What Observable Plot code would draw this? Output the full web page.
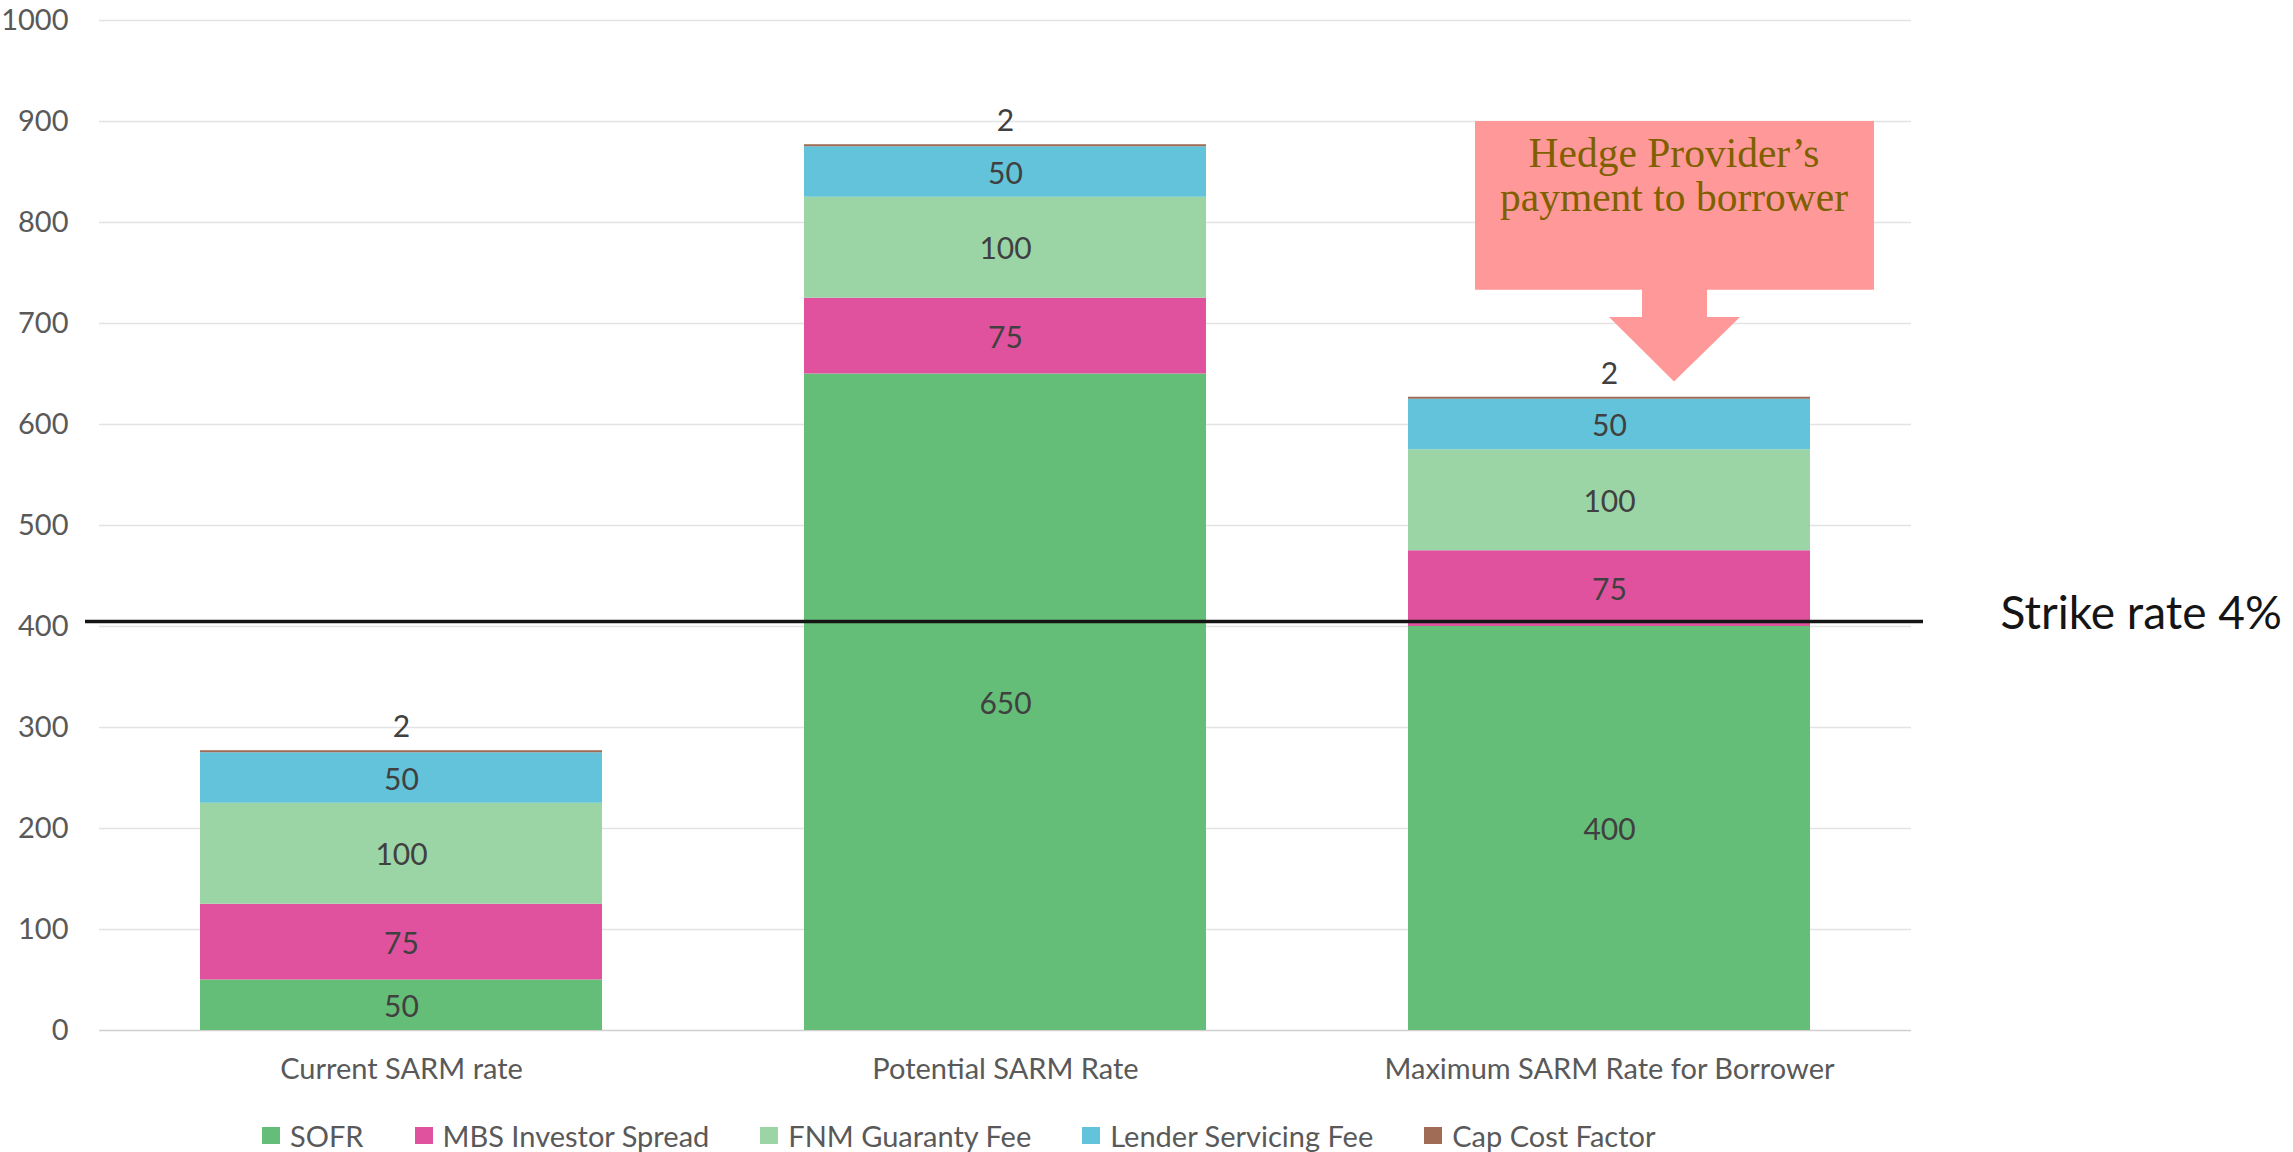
<!DOCTYPE html>
<html>
<head>
<meta charset="utf-8">
<script src="https://cdn.jsdelivr.net/npm/d3@7"></script>
<script src="https://cdn.jsdelivr.net/npm/@observablehq/plot@0.6"></script>
<style>
  html, body { margin: 0; padding: 0; background: #fff; }
  #legend { display: flex; align-items: center; height: 50px; padding-left: 262px;
            font-family: Lato, sans-serif; font-size: 29px; color: #595959; }
  .item { display: flex; align-items: center; margin-right: 51px; }
  .sw { width: 18px; height: 17px; margin-right: 10px; }
</style>
</head>
<body>
<div id="chart"></div>
<div id="legend"></div>
<script>
const categories = ["Current SARM rate", "Potential SARM Rate", "Maximum SARM Rate for Borrower"];
const seriesNames = ["SOFR", "MBS Investor Spread", "FNM Guaranty Fee", "Lender Servicing Fee", "Cap Cost Factor"];
const seriesColors = ["#65BE78", "#E0529E", "#9BD5A6", "#62C3DA", "#A06C55"];
const sofr = [50, 650, 400];
const mbsSpread = [75, 75, 75];
const fnmFee = [100, 100, 100];
const lenderFee = [50, 50, 50];
const capCost = [2, 2, 2];
const yTicks = [0, 100, 200, 300, 400, 500, 600, 700, 800, 900, 1000];
const strikeValue = 405;
const strikeLabel = "Strike rate 4%";
const calloutLines = ["Hedge Provider\u2019s", "payment to borrower"];
const calloutY = { top: 900, boxBottom: 733, stemBottom: 706, tip: 642 };

const seriesValues = [sofr, mbsSpread, fnmFee, lenderFee, capCost];
const data = [];
categories.forEach((c, i) => {
  seriesNames.forEach((s, j) => data.push({ category: c, series: s, value: seriesValues[j][i] }));
});
const capName = seriesNames[4];

const plot = Plot.plot({
  width: 2293, height: 1110,
  marginTop: 20, marginLeft: 99, marginRight: 382, marginBottom: 80,
  style: { fontFamily: "Lato, sans-serif", fontSize: "29px", color: "#595959", background: "#fff" },
  x: { domain: categories, paddingInner: 0.335, paddingOuter: 0.1675, label: null, tickSize: 0, tickPadding: 28 },
  y: { domain: [0, 1000], ticks: yTicks, tickFormat: d => String(d), label: null, tickSize: 0, tickPadding: 31 },
  color: { domain: seriesNames, range: seriesColors },
  marks: [
    Plot.ruleY(yTicks.filter(t => t > 0), { stroke: "#e3e3e3", strokeWidth: 1.5 }),
    Plot.ruleY([0], { stroke: "#cfcfcf", strokeWidth: 1.5 }),
    Plot.barY(data, Plot.stackY({ x: "category", y: "value", fill: "series", z: "series", order: seriesNames })),
    Plot.text(data, Plot.stackY({ x: "category", y: "value", z: "series", order: seriesNames,
      text: d => d.series === capName ? "" : String(d.value), fill: "#404040", fontSize: 30, dy: 2 })),
    Plot.text(data, Plot.stackY2({ x: "category", y: "value", z: "series", order: seriesNames,
      text: d => d.series === capName ? String(d.value) : "", fill: "#404040", fontSize: 30, dy: -23 })),
    Plot.ruleY([strikeValue], { stroke: "#151515", strokeWidth: 3.5, insetLeft: -14, insetRight: -12 }),
    Plot.text([strikeLabel], { y: strikeValue, text: d => d, frameAnchor: "right", textAnchor: "start",
      dx: 89, dy: -7, fontSize: 46, fill: "#151515" })
  ]
});
document.getElementById("chart").appendChild(plot);

// Callout arrow, positioned with the plot's own scales
const sx = plot.scale("x"), sy = plot.scale("y");
const barLeft = sx.apply(categories[2]);
const tipX = barLeft + sx.bandwidth / 2 + 65;
const yTop = sy.apply(calloutY.top), yBox = sy.apply(calloutY.boxBottom),
      yStem = sy.apply(calloutY.stemBottom), yTip = sy.apply(calloutY.tip);
const pts = [
  [tipX - 199, yTop], [tipX + 200, yTop], [tipX + 200, yBox], [tipX + 33, yBox],
  [tipX + 33, yStem], [tipX + 66, yStem], [tipX, yTip], [tipX - 65, yStem],
  [tipX - 32, yStem], [tipX - 32, yBox], [tipX - 199, yBox]
];
const g = d3.select(plot).append("g");
g.append("polygon").attr("points", pts.map(p => p.join(",")).join(" ")).attr("fill", "#FF9999");
g.selectAll("text.callout").data(calloutLines).join("text")
  .attr("x", tipX).attr("y", (d, i) => yTop + 36 + i * 44)
  .attr("text-anchor", "middle").attr("dominant-baseline", "middle")
  .attr("font-family", "'Liberation Serif', serif").attr("font-size", 41.5)
  .attr("fill", "#7F6000").text(d => d);

// Legend
const legend = d3.select("#legend");
seriesNames.forEach((s, i) => {
  const it = legend.append("div").attr("class", "item");
  it.append("div").attr("class", "sw").style("background", seriesColors[i]);
  it.append("span").text(s);
});
</script>
</body>
</html>
